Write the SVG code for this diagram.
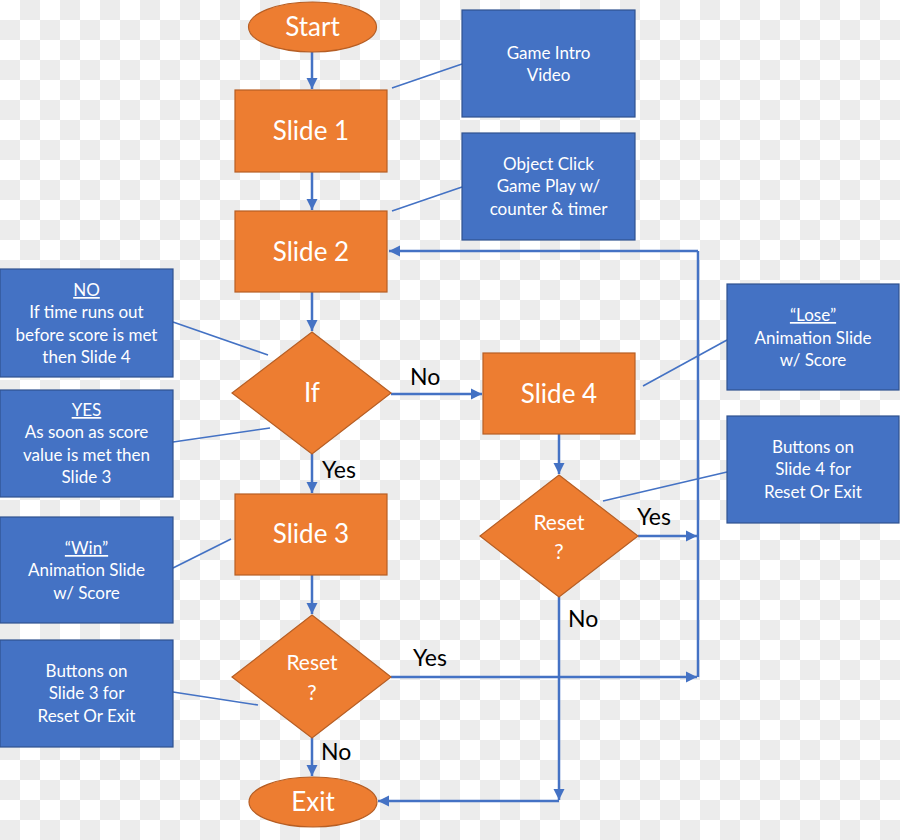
<svg xmlns="http://www.w3.org/2000/svg" width="900" height="840" viewBox="0 0 900 840">
<defs>
<pattern id="chk" width="40" height="40" patternUnits="userSpaceOnUse">
<rect width="40" height="40" fill="#ffffff"/>
<rect x="20" y="0" width="20" height="20" fill="#ececec"/>
<rect x="0" y="20" width="20" height="20" fill="#ececec"/>
</pattern>
<marker id="arr" viewBox="0 0 10 10" refX="10" refY="5" markerWidth="4.5" markerHeight="4.5" orient="auto" markerUnits="strokeWidth">
<path d="M0,0 L10,5 L0,10 z" fill="#4472C4"/>
</marker>
<style>
.o{fill:#ED7D31;stroke:#B65E24;stroke-width:1.2}
.b{fill:#4472C4;stroke:#2F528F;stroke-width:1.2}
.ot{font-family:Lato,"Open Sans",sans-serif;font-size:26px;fill:#ffffff;text-anchor:middle}
.ot2{font-family:Lato,"Open Sans",sans-serif;font-size:21px;fill:#ffffff;text-anchor:middle}
.bt{font-family:Lato,"Open Sans",sans-serif;font-size:17px;fill:#ffffff;text-anchor:middle}
.lb{font-family:Lato,"Open Sans",sans-serif;font-size:23px;fill:#000000}
.c{stroke:#4472C4;stroke-width:2.5;fill:none}
.cm{marker-end:url(#arr)}
.t{stroke:#4472C4;stroke-width:1.6;fill:none}
</style>
</defs>
<rect width="900" height="840" fill="url(#chk)"/>

<g id="connectors">
<line class="c cm" x1="312" y1="52" x2="312" y2="89"/>
<line class="c cm" x1="312" y1="172" x2="312" y2="210"/>
<line class="c cm" x1="312" y1="292" x2="312" y2="331"/>
<line class="c cm" x1="312" y1="454" x2="312" y2="493"/>
<line class="c cm" x1="312" y1="575" x2="312" y2="614"/>
<line class="c cm" x1="312" y1="738" x2="312" y2="776"/>
<line class="c cm" x1="391" y1="394" x2="482" y2="394"/>
<line class="c cm" x1="559" y1="434" x2="559" y2="474"/>
<line class="c cm" x1="638" y1="536" x2="697" y2="536"/>
<line class="c cm" x1="391" y1="677" x2="697" y2="677"/>
<line class="c" x1="698" y1="677" x2="698" y2="251"/>
<line class="c cm" x1="698" y1="251" x2="389" y2="251"/>
<line class="c cm" x1="559" y1="597" x2="559" y2="800"/>
<line class="c cm" x1="559" y1="801" x2="378" y2="801"/>
<line class="t" x1="392" y1="88" x2="462" y2="64"/>
<line class="t" x1="392" y1="211" x2="462" y2="187"/>
<line class="t" x1="173" y1="322" x2="268" y2="355"/>
<line class="t" x1="173" y1="442" x2="270" y2="428"/>
<line class="t" x1="173" y1="568" x2="231" y2="539"/>
<line class="t" x1="173" y1="692" x2="258" y2="705"/>
<line class="t" x1="643" y1="386" x2="727" y2="340"/>
<line class="t" x1="603" y1="501" x2="727" y2="472"/>
<text class="lb" x="410" y="385">No</text>
<text class="lb" x="322" y="478">Yes</text>
<text class="lb" x="637" y="525">Yes</text>
<text class="lb" x="568" y="627">No</text>
<text class="lb" x="413" y="666">Yes</text>
<text class="lb" x="321" y="760">No</text>
</g>

<g id="start"><ellipse class="o" cx="312.5" cy="27" rx="64" ry="25"/><text class="ot" x="312.5" y="36">Start</text></g>
<g id="slide1"><rect class="o" x="235" y="90" width="152" height="82"/><text class="ot" x="311" y="140">Slide 1</text></g>
<g id="slide2"><rect class="o" x="235" y="211" width="152" height="81"/><text class="ot" x="311" y="261">Slide 2</text></g>
<g id="if"><polygon class="o" points="312,332 391,393 312,454 232,393"/><text class="ot" x="312" y="402">If</text></g>
<g id="slide3"><rect class="o" x="235" y="494" width="152" height="81"/><text class="ot" x="311" y="543">Slide 3</text></g>
<g id="reset3"><polygon class="o" points="312,615 391,677 312,738 232,677"/><text class="ot2" x="312" y="670">Reset</text><text class="ot2" x="312" y="700">?</text></g>
<g id="exit"><ellipse class="o" cx="313" cy="802" rx="64" ry="25"/><text class="ot" x="313" y="811">Exit</text></g>
<g id="slide4"><rect class="o" x="483" y="353" width="152" height="81"/><text class="ot" x="559" y="403">Slide 4</text></g>
<g id="reset4"><polygon class="o" points="559,475 638,536 559,597 480,536"/><text class="ot2" x="559" y="530">Reset</text><text class="ot2" x="559" y="559">?</text></g>

<g id="intro"><rect class="b" x="462" y="10" width="173" height="107"/><text class="bt" x="548.5" y="59">Game Intro</text><text class="bt" x="548.5" y="81">Video</text></g>
<g id="objclick"><rect class="b" x="462" y="133" width="173" height="107"/><text class="bt" x="548.5" y="170">Object Click</text><text class="bt" x="548.5" y="192">Game Play w/</text><text class="bt" x="548.5" y="215">counter &amp; timer</text></g>
<g id="nobox"><rect class="b" x="0" y="269" width="173" height="108"/><text class="bt" x="86.5" y="296" text-decoration="underline">NO</text><text class="bt" x="86.5" y="318">If time runs out</text><text class="bt" x="86.5" y="341">before score is met</text><text class="bt" x="86.5" y="363">then Slide 4</text></g>
<g id="yesbox"><rect class="b" x="0" y="390" width="173" height="107"/><text class="bt" x="86.5" y="416" text-decoration="underline">YES</text><text class="bt" x="86.5" y="438">As soon as score</text><text class="bt" x="86.5" y="461">value is met then</text><text class="bt" x="86.5" y="483">Slide 3</text></g>
<g id="winbox"><rect class="b" x="0" y="517" width="173" height="106"/><text class="bt" x="86.5" y="554" text-decoration="underline">“Win”</text><text class="bt" x="86.5" y="576">Animation Slide</text><text class="bt" x="86.5" y="599">w/ Score</text></g>
<g id="buttons3"><rect class="b" x="0" y="640" width="173" height="107"/><text class="bt" x="86.5" y="677">Buttons on</text><text class="bt" x="86.5" y="699">Slide 3 for</text><text class="bt" x="86.5" y="722">Reset Or Exit</text></g>
<g id="losebox"><rect class="b" x="727" y="284" width="172" height="106"/><text class="bt" x="813" y="321" text-decoration="underline">“Lose”</text><text class="bt" x="813" y="344">Animation Slide</text><text class="bt" x="813" y="366">w/ Score</text></g>
<g id="buttons4"><rect class="b" x="727" y="416" width="172" height="107"/><text class="bt" x="813" y="453">Buttons on</text><text class="bt" x="813" y="475">Slide 4 for</text><text class="bt" x="813" y="498">Reset Or Exit</text></g>
</svg>
